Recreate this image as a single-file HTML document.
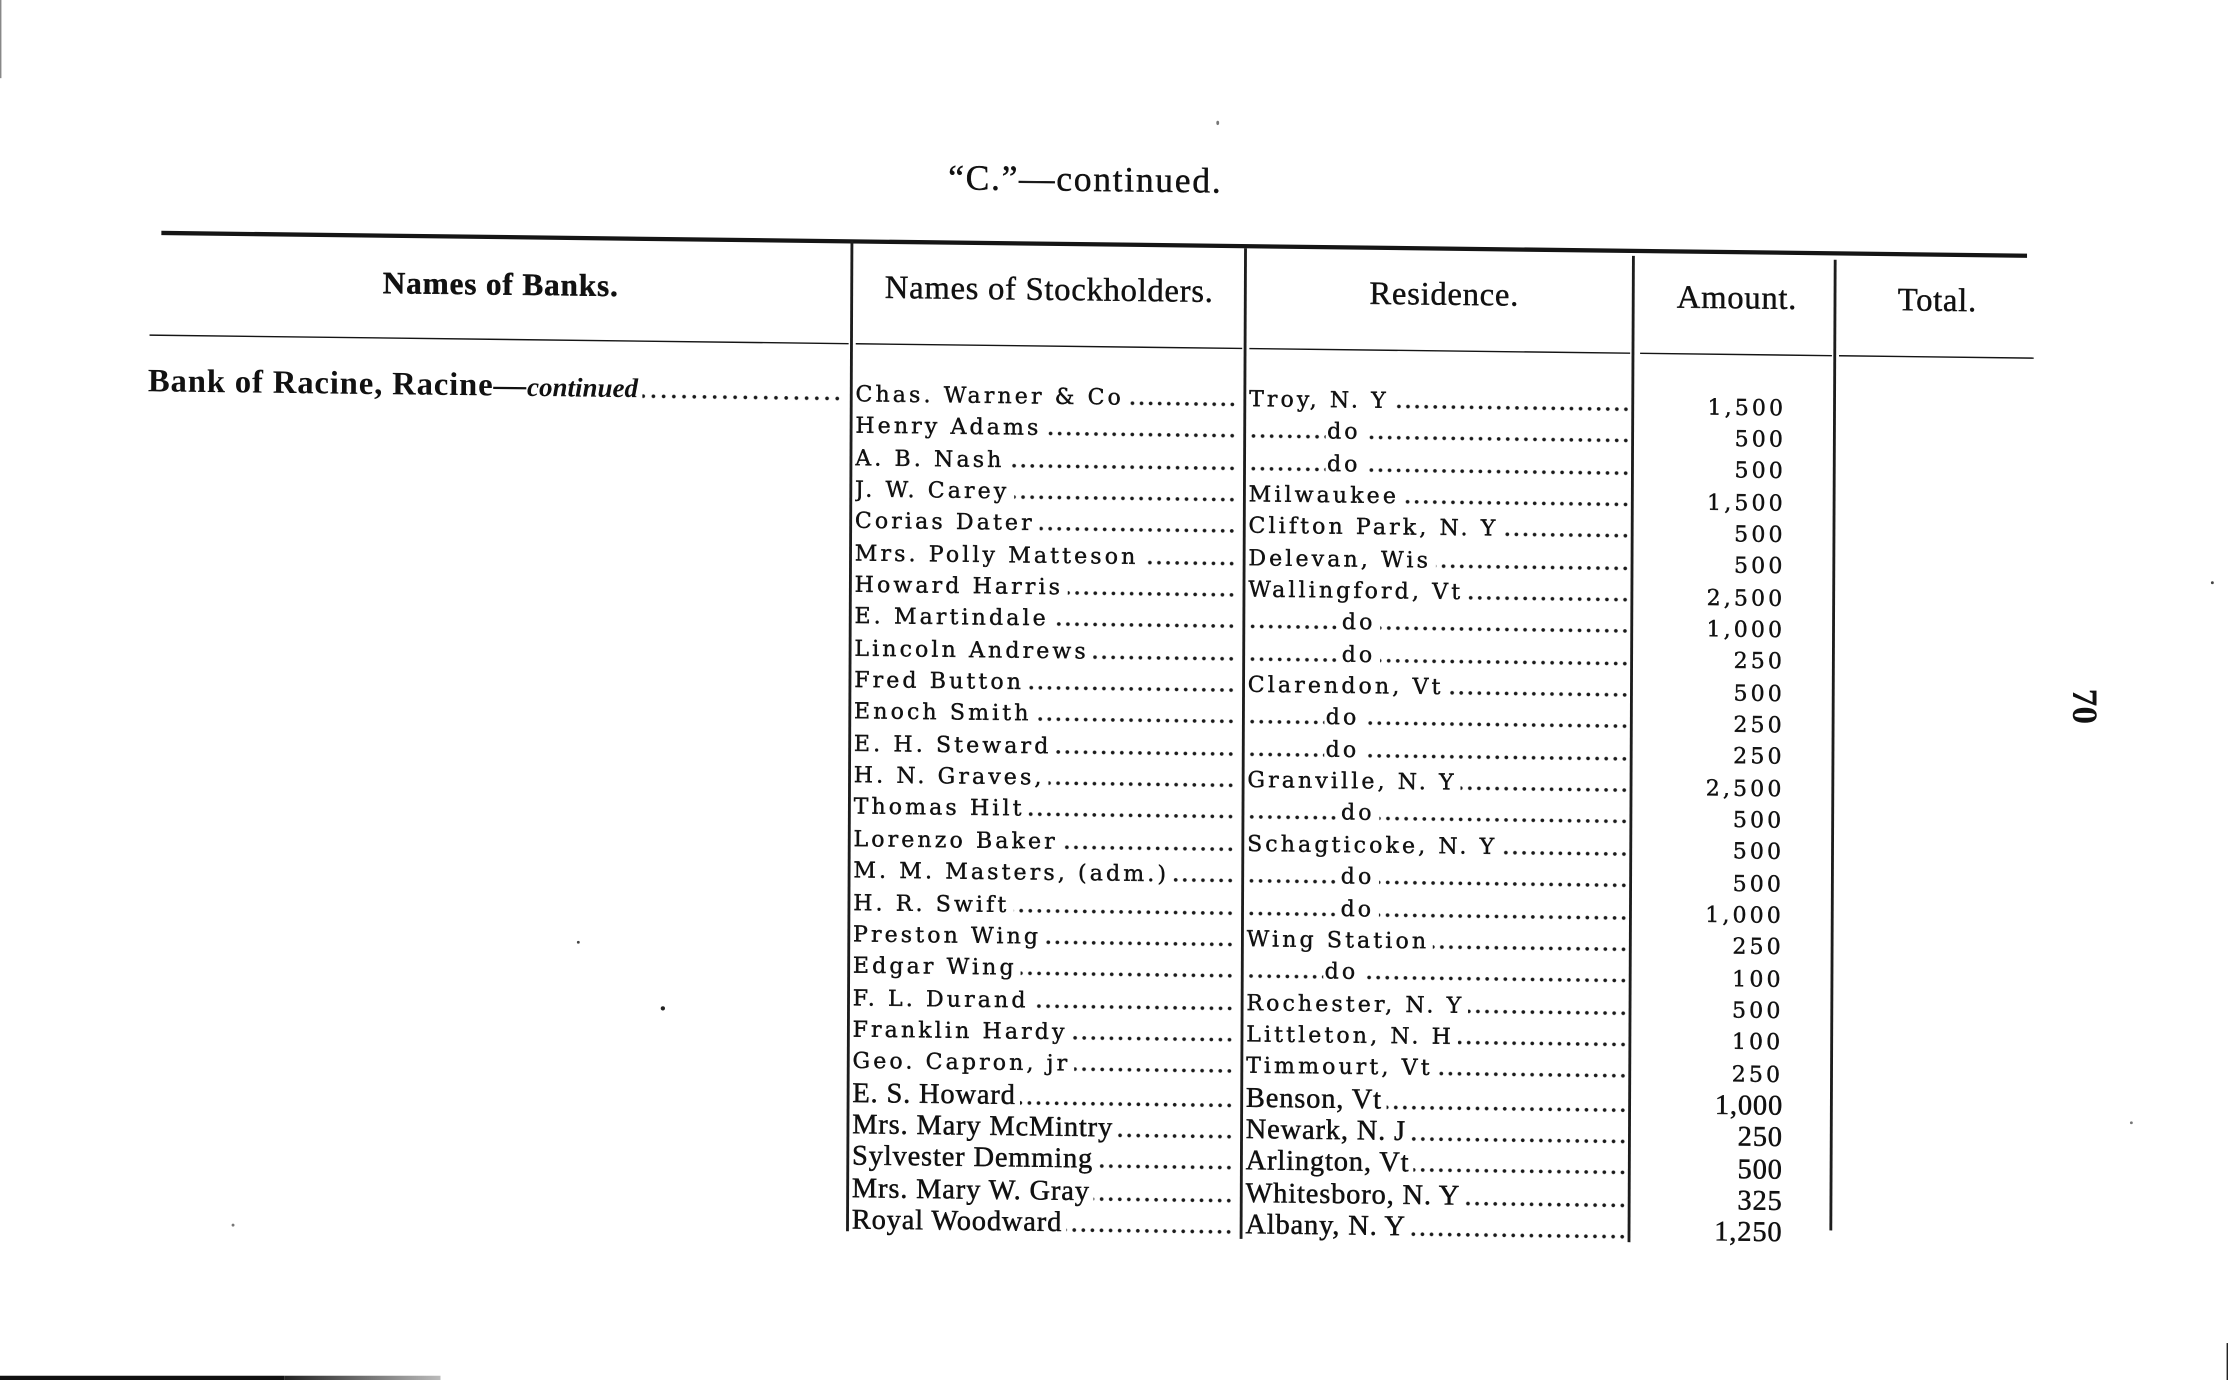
<!DOCTYPE html>
<html><head><meta charset="utf-8">
<style>
html,body{margin:0;padding:0;background:#fff;width:2228px;height:1380px;overflow:hidden}
#pg{position:absolute;left:0;top:0;width:1568px;height:971px;transform-origin:0 0;transform:scale(1.420918,1.421215)}
#tb{position:absolute;left:0;top:0;width:1568px;height:971px;transform-origin:735px 520px;transform:matrix(1,0.0122,-0.0045,1,0,0)}
.a{position:absolute}
.hr{position:absolute;background:#151515}
.vl{position:absolute;width:1.3px;background:#1d1d1d}
.col{position:absolute;top:268px}
.r{height:22.35px;line-height:22.35px;white-space:nowrap;font-family:"DejaVu Serif",serif;font-size:15.5px;letter-spacing:2.2px;color:#111;-webkit-text-stroke:0.3px #111;
 background-image:radial-gradient(circle at 3.2px 15.2px,#1a1a1a 0,#1a1a1a 1.1px,rgba(0,0,0,0) 1.5px);background-size:6.4px 22.35px;background-repeat:repeat-x;overflow:hidden}
.r span{background:#fff;padding-right:3px}
.r.c{font-family:"Liberation Serif",serif;font-size:20px;letter-spacing:0.6px;background-position:0 1px;-webkit-text-stroke:0.35px #111}
.d6{margin-left:54px;padding-left:1px}
.d9{margin-left:65px;padding-left:1px}
.amt .r{background:none;text-align:right}
.hd{position:absolute;width:300px;text-align:center;font-family:"Liberation Serif",serif;font-size:23px;letter-spacing:0.5px;line-height:30px;color:#111;top:189.2px;white-space:nowrap;-webkit-text-stroke:0.3px #111}
.sp{position:absolute;background:#777;border-radius:50%}
</style></head>
<body>
<div id="pg">
 <div id="tb">
  <div class="a" style="left:462px;top:111.5px;width:600px;text-align:center;font-family:'Liberation Serif',serif;font-size:25px;letter-spacing:1.2px;line-height:30px;color:#111;white-space:nowrap;-webkit-text-stroke:0.3px #111">“C.”—continued.</div>

  <div class="hr" style="left:112px;top:170.2px;width:1313px;height:2.8px"></div>

  <div class="hd" style="left:201px;top:189.6px;font-weight:bold;font-size:22px;letter-spacing:0.6px">Names of Banks.</div>
  <div class="hd" style="left:587px">Names of Stockholders.</div>
  <div class="hd" style="left:865px">Residence.</div>
  <div class="hd" style="left:1071px">Amount.</div>
  <div class="hd" style="left:1212px">Total.</div>

  <div class="hr" style="left:104px;top:242.5px;width:492px;height:1.9px"></div>
  <div class="hr" style="left:601px;top:242.5px;width:272px;height:1.9px"></div>
  <div class="hr" style="left:878px;top:242.5px;width:268px;height:1.9px"></div>
  <div class="hr" style="left:1153px;top:242.5px;width:135px;height:1.9px"></div>
  <div class="hr" style="left:1293px;top:242.5px;width:137px;height:1.9px"></div>

  <div class="vl" style="left:597.4px;top:171px;height:697px"></div>
  <div class="vl" style="left:874.4px;top:173px;height:697px"></div>
  <div class="vl" style="left:1147.4px;top:175px;height:694px"></div>
  <div class="vl" style="left:1289.4px;top:176px;height:683px"></div>

  <div class="a" style="left:103px;top:260.5px;width:490px;height:30px;line-height:30px;white-space:nowrap;overflow:hidden;font-family:'Liberation Serif',serif;color:#111;background-image:radial-gradient(circle at 3.6px 21.2px,#1a1a1a 0,#1a1a1a 1.1px,rgba(0,0,0,0) 1.5px);background-size:7.2px 30px;background-repeat:repeat-x"><span style="background:#fff;padding-right:3px"><b style="font-size:23px;letter-spacing:0.6px">Bank of Racine, Racine—</b><i style="font-size:19px;font-weight:bold">continued</i></span></div>

  <div class="col" style="left:601px;width:268px">
   <div class="r"><span>Chas. Warner &amp; Co</span></div>
   <div class="r"><span>Henry Adams</span></div>
   <div class="r"><span>A. B. Nash</span></div>
   <div class="r"><span>J. W. Carey</span></div>
   <div class="r"><span>Corias Dater</span></div>
   <div class="r"><span>Mrs. Polly Matteson</span></div>
   <div class="r"><span>Howard Harris</span></div>
   <div class="r"><span>E. Martindale</span></div>
   <div class="r"><span>Lincoln Andrews</span></div>
   <div class="r"><span>Fred Button</span></div>
   <div class="r"><span>Enoch Smith</span></div>
   <div class="r"><span>E. H. Steward</span></div>
   <div class="r"><span>H. N. Graves,</span></div>
   <div class="r"><span>Thomas Hilt</span></div>
   <div class="r"><span>Lorenzo Baker</span></div>
   <div class="r"><span>M. M. Masters, (adm.)</span></div>
   <div class="r"><span>H. R. Swift</span></div>
   <div class="r"><span>Preston Wing</span></div>
   <div class="r"><span>Edgar Wing</span></div>
   <div class="r"><span>F. L. Durand</span></div>
   <div class="r"><span>Franklin Hardy</span></div>
   <div class="r"><span>Geo. Capron, jr</span></div>
   <div class="r c"><span>E. S. Howard</span></div>
   <div class="r c"><span>Mrs. Mary McMintry</span></div>
   <div class="r c"><span>Sylvester Demming</span></div>
   <div class="r c"><span>Mrs. Mary W. Gray</span></div>
   <div class="r c"><span>Royal Woodward</span></div>
  </div>

  <div class="col" style="left:878px;width:267px">
   <div class="r"><span>Troy, N. Y</span></div>
   <div class="r"><span class="d6">do</span></div>
   <div class="r"><span class="d6">do</span></div>
   <div class="r"><span>Milwaukee</span></div>
   <div class="r"><span>Clifton Park, N. Y</span></div>
   <div class="r"><span>Delevan, Wis</span></div>
   <div class="r"><span>Wallingford, Vt</span></div>
   <div class="r"><span class="d9">do</span></div>
   <div class="r"><span class="d9">do</span></div>
   <div class="r"><span>Clarendon, Vt</span></div>
   <div class="r"><span class="d6">do</span></div>
   <div class="r"><span class="d6">do</span></div>
   <div class="r"><span>Granville, N. Y</span></div>
   <div class="r"><span class="d9">do</span></div>
   <div class="r"><span>Schagticoke, N. Y</span></div>
   <div class="r"><span class="d9">do</span></div>
   <div class="r"><span class="d9">do</span></div>
   <div class="r"><span>Wing Station</span></div>
   <div class="r"><span class="d6">do</span></div>
   <div class="r"><span>Rochester, N. Y</span></div>
   <div class="r"><span>Littleton, N. H</span></div>
   <div class="r"><span>Timmourt, Vt</span></div>
   <div class="r c"><span>Benson, Vt</span></div>
   <div class="r c"><span>Newark, N. J</span></div>
   <div class="r c"><span>Arlington, Vt</span></div>
   <div class="r c"><span>Whitesboro, N. Y</span></div>
   <div class="r c"><span>Albany, N. Y</span></div>
  </div>

  <div class="col amt" style="left:1150px;width:106px;top:269.5px">
   <div class="r">1,500</div>
   <div class="r">500</div>
   <div class="r">500</div>
   <div class="r">1,500</div>
   <div class="r">500</div>
   <div class="r">500</div>
   <div class="r">2,500</div>
   <div class="r">1,000</div>
   <div class="r">250</div>
   <div class="r">500</div>
   <div class="r">250</div>
   <div class="r">250</div>
   <div class="r">2,500</div>
   <div class="r">500</div>
   <div class="r">500</div>
   <div class="r">500</div>
   <div class="r">1,000</div>
   <div class="r">250</div>
   <div class="r">100</div>
   <div class="r">500</div>
   <div class="r">100</div>
   <div class="r">250</div>
   <div class="r c">1,000</div>
   <div class="r c">250</div>
   <div class="r c">500</div>
   <div class="r c">325</div>
   <div class="r c">1,250</div>
  </div>
 </div>

 <div class="a" style="left:1446px;top:482px;width:40px;height:30px;line-height:30px;text-align:center;font-family:'Liberation Serif',serif;font-weight:bold;font-size:25px;color:#111;transform:rotate(90deg)">70</div>

 <div class="a" style="left:0;top:0;width:1.2px;height:55px;background:#888"></div>
 <div class="a" style="left:0;top:967.5px;width:200px;height:3.5px;background:#111"></div>
 <div class="a" style="left:200px;top:968px;width:110px;height:3px;background:linear-gradient(90deg,#222,#bbb)"></div>
 <div class="a" style="left:1566.5px;top:945px;width:1.5px;height:26px;background:#222"></div>
 <div class="sp" style="left:856px;top:85px;width:2px;height:3px"></div>
 <div class="sp" style="left:1556px;top:409px;width:2px;height:2px;background:#444"></div>
 <div class="sp" style="left:406px;top:662px;width:2px;height:2px;background:#444"></div>
 <div class="sp" style="left:464.5px;top:707.5px;width:3.2px;height:3px;background:#222"></div>
 <div class="sp" style="left:1499px;top:789px;width:2px;height:2px"></div>
 <div class="sp" style="left:163px;top:861px;width:2px;height:2px"></div>
</div>
</body></html>
